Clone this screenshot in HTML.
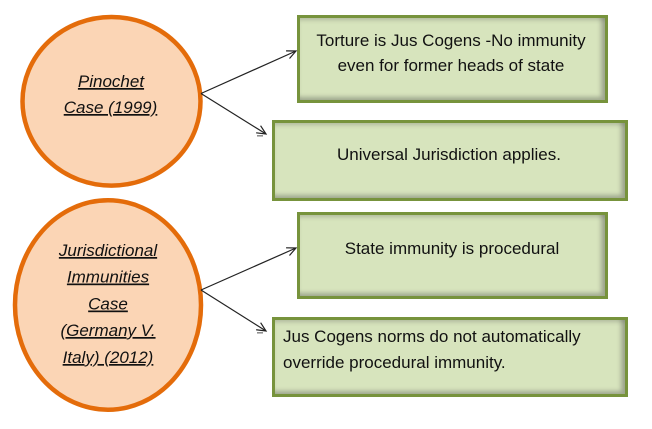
<!DOCTYPE html>
<html><head><meta charset="utf-8"><style>
html,body{margin:0;padding:0;background:#fff;}
body{width:652px;height:429px;position:relative;overflow:hidden;font-family:"Liberation Sans",sans-serif;}
.box{position:absolute;box-sizing:border-box;border:3px solid #77933C;background:#D7E4BD;box-shadow:inset -5px -4px 4px -1px rgba(60,60,60,0.35), inset 0 4px 4px -2px rgba(60,60,60,0.25);}
svg{position:absolute;left:0;top:0;}
</style></head><body>
<div class="box" style="left:297px;top:15px;width:311px;height:88px;"></div>
<div class="box" style="left:272px;top:120px;width:356px;height:81px;"></div>
<div class="box" style="left:297px;top:212px;width:311px;height:87px;"></div>
<div class="box" style="left:272px;top:317px;width:356px;height:80px;"></div>
<svg width="652" height="429" viewBox="0 0 652 429" xmlns="http://www.w3.org/2000/svg">
<defs>
<marker id="ah" markerUnits="userSpaceOnUse" markerWidth="12" markerHeight="12" refX="10" refY="5" orient="auto" viewBox="0 0 12 10">
<path d="M1,0.8 L10,5 L1,9.2" fill="none" stroke="#222" stroke-width="1.2"/>
</marker>
</defs>
<ellipse cx="111.5" cy="101.3" rx="89" ry="84.3" fill="#FBD5B5" stroke="#E46C0A" stroke-width="4.5"/>
<ellipse cx="108" cy="305" rx="93" ry="104.7" fill="#FBD5B5" stroke="#E46C0A" stroke-width="4.5"/>
<g stroke="#222" stroke-width="1.2" fill="none">
<line x1="201" y1="93.5" x2="296" y2="51" marker-end="url(#ah)"/>
<line x1="201" y1="93.5" x2="266" y2="134" marker-end="url(#ah)"/>
<line x1="201" y1="290" x2="296" y2="248" marker-end="url(#ah)"/>
<line x1="201" y1="290" x2="266" y2="331" marker-end="url(#ah)"/>
</g>
<g stroke="#888" stroke-width="1.5">
<line x1="257" y1="135.8" x2="263" y2="135.8"/>
<line x1="257" y1="332.8" x2="263" y2="332.8"/>
</g>
<g font-family="Liberation Sans, sans-serif" font-size="17" fill="#111">
<text x="451" y="46" text-anchor="middle">Torture is Jus Cogens -No immunity</text>
<text x="451" y="71" text-anchor="middle">even for former heads of state</text>
<text x="449" y="160" text-anchor="middle">Universal Jurisdiction applies.</text>
<text x="452" y="254" text-anchor="middle">State immunity is procedural</text>
<text x="283" y="342">Jus Cogens norms do not automatically</text>
<text x="283" y="368">override procedural immunity.</text>
</g>
<g font-family="Liberation Sans, sans-serif" font-size="17" font-style="italic" fill="#111" text-anchor="middle" style="text-decoration:underline">
<text x="111" y="87">Pinochet</text>
<text x="110.5" y="113">Case (1999)</text>
<text x="108" y="256">Jurisdictional</text>
<text x="108" y="282.5">Immunities</text>
<text x="108" y="309.5">Case</text>
<text x="108" y="336">(Germany V.</text>
<text x="108" y="363">Italy) (2012)</text>
</g>
</svg>
</body></html>
